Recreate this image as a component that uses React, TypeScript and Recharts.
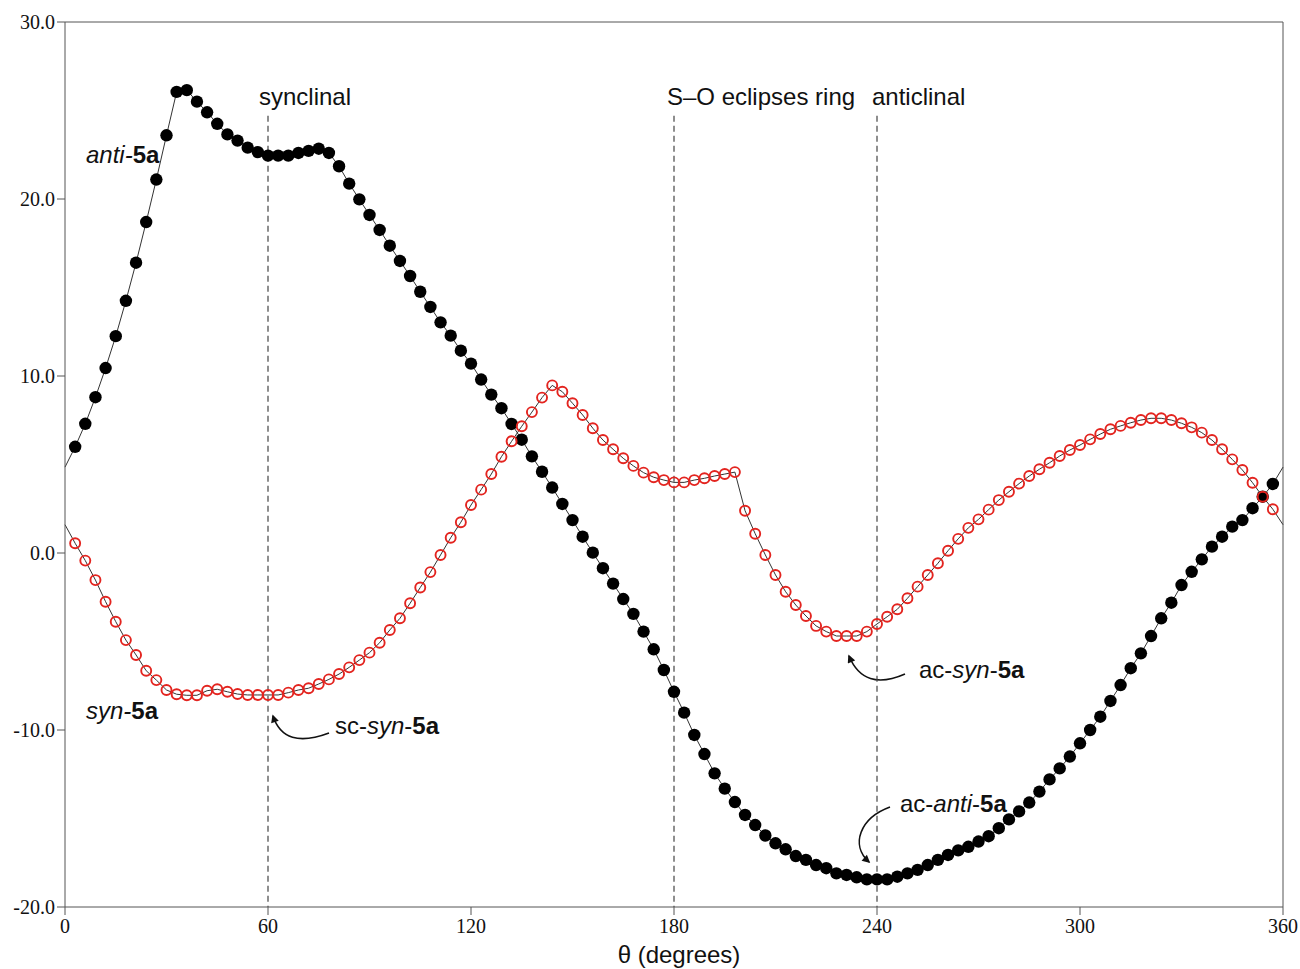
import { Customized, Line, LineChart, ReferenceLine, XAxis, YAxis } from 'recharts';

// torsion angle θ, every 3 degrees (dots drawn from 3 to 357, line runs edge to edge)
const ANGLES = Array.from({ length: 121 }, (_, i) => i * 3);

// anti-5a (filled black dots)
const ANTI = [
  4.85, 6.0, 7.3, 8.8, 10.45, 12.25, 14.25, 16.4, 18.7, 21.1,
  23.6, 26.05, 26.15, 25.5, 24.9, 24.25, 23.65, 23.3, 22.9, 22.65,
  22.45, 22.45, 22.45, 22.6, 22.72, 22.84, 22.6, 21.85, 20.87, 19.98,
  19.1, 18.25, 17.36, 16.5, 15.65, 14.76, 13.9, 13.03, 12.28, 11.43,
  10.7, 9.8, 8.95, 8.18, 7.29, 6.4, 5.46, 4.59, 3.7, 2.77,
  1.86, 0.92, 0.02, -0.86, -1.73, -2.6, -3.44, -4.44, -5.44, -6.61,
  -7.84, -9.02, -10.28, -11.36, -12.45, -13.31, -14.07, -14.8, -15.37, -15.96,
  -16.4, -16.74, -17.12, -17.34, -17.63, -17.81, -18.1, -18.19, -18.32, -18.44,
  -18.44, -18.44, -18.29, -18.1, -17.9, -17.63, -17.34, -17.06, -16.8, -16.6,
  -16.3, -16.0, -15.55, -15.05, -14.6, -14.1, -13.48, -12.79, -12.17, -11.5,
  -10.75, -10.0, -9.25, -8.36, -7.46, -6.51, -5.67, -4.69, -3.69, -2.81,
  -1.81, -1.06, -0.36, 0.36, 0.92, 1.49, 1.86, 2.53, 3.18, 3.9,
  4.85,
];

// syn-5a (open red circles)
const SYN = [
  1.6, 0.55, -0.43, -1.53, -2.75, -3.88, -4.92, -5.76, -6.65, -7.18,
  -7.74, -7.98, -8.04, -8.04, -7.78, -7.7, -7.84, -7.97, -8.02, -8.02,
  -8.02, -8.02, -7.89, -7.74, -7.64, -7.4, -7.14, -6.84, -6.46, -6.05,
  -5.63, -5.07, -4.35, -3.69, -2.84, -1.95, -1.08, -0.11, 0.86, 1.74,
  2.71, 3.58, 4.46, 5.44, 6.31, 7.16, 7.96, 8.78, 9.47, 9.11,
  8.46, 7.8, 7.05, 6.38, 5.86, 5.35, 4.92, 4.54, 4.28, 4.12,
  3.99, 3.99, 4.12, 4.22, 4.35, 4.46, 4.57, 2.39, 1.09, -0.11,
  -1.24, -2.19, -2.94, -3.56, -4.12, -4.44, -4.69, -4.69, -4.69, -4.44,
  -4.01, -3.6, -3.18, -2.56, -1.9, -1.24, -0.58, 0.13, 0.8, 1.42,
  1.9, 2.45, 2.99, 3.46, 3.92, 4.35, 4.73, 5.1, 5.48, 5.82,
  6.1, 6.42, 6.72, 6.99, 7.18, 7.36, 7.51, 7.61, 7.61, 7.51,
  7.33, 7.1, 6.8, 6.38, 5.86, 5.29, 4.69, 3.97, 3.18, 2.47,
  1.6,
];

const X_TICKS = [0, 60, 120, 180, 240, 300, 360];
const Y_TICKS = [-20, -10, 0, 10, 20, 30];
const MARKERS = [60, 180, 240]; // dashed conformer lines

const data = ANGLES.map((theta, i) => ({ theta, anti: ANTI[i], syn: SYN[i] }));

const SANS = "'Liberation Sans', Arial, Helvetica, sans-serif";
const SERIF = "'Liberation Serif', 'Times New Roman', serif";
const RED = '#e3241f';
const AXIS = '#555';

const isEdge = (i: number) => i === 0 || i === ANGLES.length - 1;

const filledDot = (p: any) =>
  isEdge(p.index) ? (
    <g key={`a${p.index}`} />
  ) : (
    <circle key={`a${p.index}`} cx={p.cx} cy={p.cy} r={6.2} fill="#000" />
  );

const openDot = (p: any) =>
  isEdge(p.index) ? (
    <g key={`s${p.index}`} />
  ) : (
    <circle key={`s${p.index}`} cx={p.cx} cy={p.cy} r={5} fill="none" stroke={RED} strokeWidth={1.9} />
  );

// labels + curved arrows (pixel layout of the plot box: 65..1283 x 22..907)
function Annotations() {
  const txt = { fontFamily: SANS, fontSize: 24, fill: '#111' };
  const arrow = { fill: 'none', stroke: '#111', strokeWidth: 1.6, markerEnd: 'url(#arrowHead)' };
  return (
    <g>
      <defs>
        <marker
          id="arrowHead"
          viewBox="0 0 10 10"
          refX="8"
          refY="5"
          markerWidth="9"
          markerHeight="8"
          markerUnits="userSpaceOnUse"
          orient="auto"
        >
          <path d="M0,0 L10,5 L0,10 z" fill="#111" />
        </marker>
      </defs>
      <text x={259} y={105} {...txt}>synclinal</text>
      <text x={667} y={105} {...txt}>S–O eclipses ring</text>
      <text x={872} y={105} {...txt}>anticlinal</text>

      <text x={86} y={163} {...txt}>
        <tspan fontStyle="italic">anti-</tspan>
        <tspan fontWeight="bold">5a</tspan>
      </text>
      <text x={86} y={719} {...txt}>
        <tspan fontStyle="italic">syn-</tspan>
        <tspan fontWeight="bold">5a</tspan>
      </text>
      <text x={335} y={734} {...txt}>
        sc-<tspan fontStyle="italic">syn</tspan>-<tspan fontWeight="bold">5a</tspan>
      </text>
      <text x={919} y={678} {...txt}>
        ac-<tspan fontStyle="italic">syn</tspan>-<tspan fontWeight="bold">5a</tspan>
      </text>
      <text x={900} y={812} {...txt}>
        ac-<tspan fontStyle="italic">anti</tspan>-<tspan fontWeight="bold">5a</tspan>
      </text>

      <path d="M 329 733 Q 284 750 273 716" {...arrow} />
      <path d="M 905 674 Q 864 692 849 656" {...arrow} />
      <path d="M 890 807 C 860 818 850 845 869 862" {...arrow} />

      <text x={679} y={963} textAnchor="middle" {...txt}>
        θ (degrees)
      </text>
    </g>
  );
}

export default function App() {
  return (
    <div style={{ position: 'absolute', left: 0, top: 0, width: 1300, height: 969, background: '#fff' }}>
      <LineChart width={1300} height={969} data={data} margin={{ top: 22, right: 17, bottom: 0, left: 0 }}>
        <XAxis
          dataKey="theta"
          type="number"
          domain={[0, 360]}
          ticks={X_TICKS}
          height={62}
          tickSize={8}
          tickMargin={4}
          stroke={AXIS}
          tick={{ fontFamily: SERIF, fontSize: 20, fill: '#111' }}
        />
        <YAxis
          type="number"
          domain={[-20, 30]}
          ticks={Y_TICKS}
          width={65}
          tickSize={8}
          tickMargin={2}
          stroke={AXIS}
          tick={{ fontFamily: SERIF, fontSize: 20, fill: '#111' }}
          tickFormatter={(v: number) => v.toFixed(1)}
        />
        {/* frame: top and right edges */}
        <ReferenceLine y={30} stroke={AXIS} strokeWidth={1} />
        <ReferenceLine x={360} stroke={AXIS} strokeWidth={1} />
        {MARKERS.map((m) => (
          <ReferenceLine
            key={m}
            segment={[
              { x: m, y: 24.7 },
              { x: m, y: -20 },
            ]}
            stroke="#444"
            strokeWidth={1.2}
            strokeDasharray="6 4"
          />
        ))}
        <Line
          type="linear"
          dataKey="anti"
          stroke="#333"
          strokeWidth={1}
          dot={filledDot}
          activeDot={false}
          isAnimationActive={false}
        />
        <Line
          type="linear"
          dataKey="syn"
          stroke="#333"
          strokeWidth={1}
          dot={openDot}
          activeDot={false}
          isAnimationActive={false}
        />
        <Customized component={<Annotations />} />
      </LineChart>
    </div>
  );
}
